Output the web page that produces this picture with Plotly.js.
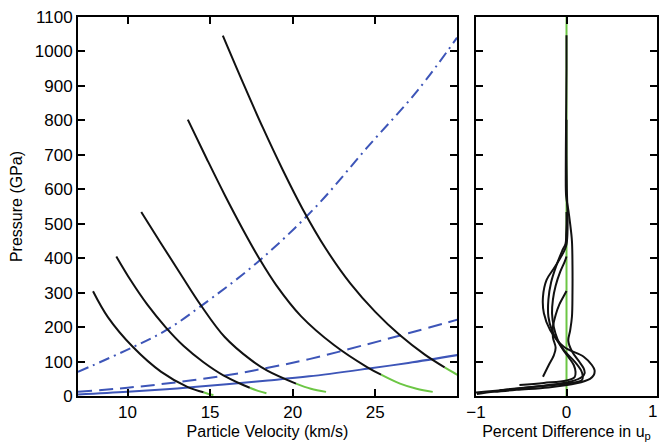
<!DOCTYPE html>
<html>
<head>
<meta charset="utf-8">
<script src="https://cdn.plot.ly/plotly-3.0.1.min.js"></script>
<style>html,body{margin:0;padding:0;background:#fff;}#chart{width:660px;height:442px;}</style>
</head>
<body>
<div id="chart"></div>
<script>
// ---- Left panel: release paths (black part + green tail) ----
const rel1Up = [7.91, 8.81, 10.33, 12.04, 13.65, 14.6];
const rel1P  = [304, 229, 142, 70, 26, 11];
const rel1GreenUp = [14.6, 14.9, 15.2];
const rel1GreenP  = [11, 6, 3];

const rel2Up = [9.32, 10.2, 11.2, 12.3, 13.4, 14.6, 15.8, 17.0, 17.4];
const rel2P  = [405, 335, 265, 200, 145, 98, 60, 32, 24];
const rel2GreenUp = [17.4, 17.9, 18.41];
const rel2GreenP  = [24, 15, 8];

const rel3Up = [10.83, 12.0, 13.2, 14.46, 15.87, 17.49, 18.49, 20.2];
const rel3P  = [534, 445, 355, 262, 172, 104, 73, 36];
const rel3GreenUp = [20.2, 21.1, 22.02];
const rel3GreenP  = [36, 21, 12];

const rel4Up = [13.65, 14.8, 15.9, 17.0, 18.0, 19.0, 20.5, 22.5, 24.5, 25.35];
const rel4P  = [802, 688, 582, 482, 397, 322, 232, 148, 84, 62];
const rel4GreenUp = [25.35, 26.5, 27.5, 28.48];
const rel4GreenP  = [62, 36, 21, 12];

const rel5Up = [15.77, 17.0, 18.2, 19.4, 20.6, 22.0, 23.5, 25.0, 26.5, 28.0, 29.2];
const rel5P  = [1046, 908, 778, 656, 543, 428, 326, 244, 176, 120, 83];
const rel5GreenUp = [29.2, 30.0, 30.6];
const rel5GreenP  = [83, 61, 48];

// ---- Left panel: blue reference curves ----
const solidUp = [7, 10, 13, 16, 18.5, 21, 24.5, 27, 30];
const solidP  = [4, 12, 22, 34, 45, 57, 79, 96, 119];
const dashUp  = [7, 10, 13, 16, 18.5, 21, 24.5, 27, 30];
const dashP   = [12, 24, 40, 60, 82, 107, 150, 182, 222];
const dashDotUp = [7, 10.33, 12.34, 14.36, 17.89, 21.4, 24.54, 27.57, 29.95];
const dashDotP  = [70, 142, 191, 258, 389, 549, 723, 887, 1040];

// ---- Right panel: percent difference in up ----
const diff1 = [0, -0.03, -0.08, -0.12, -0.15, -0.15, -0.12, -0.14, -0.2, -0.26];
const diff1P = [305, 290, 265, 235, 200, 170, 140, 118, 88, 56];
const diff2 = [0, -0.02, -0.07, -0.12, -0.15, -0.16, -0.14, -0.1, -0.04, 0.03, 0.08, 0.1, 0.09, 0.0, -0.25, -0.52];
const diff2P = [405, 390, 360, 320, 280, 240, 200, 165, 135, 110, 90, 70, 55, 45, 38, 32];
const diff3 = [0, 0, -0.004, -0.01, -0.05, -0.11, -0.17, -0.2, -0.2, -0.16, -0.1, -0.02, 0.09, 0.16, 0.18, 0.17, 0.05, -0.3, -0.74];
const diff3P = [534, 500, 470, 443, 420, 380, 330, 280, 230, 190, 160, 130, 100, 75, 58, 46, 38, 28, 17];
const diff4 = [0, 0, 0.004, 0.012, 0.01, 0, -0.02, -0.07, -0.14, -0.22, -0.26, -0.25, -0.18, -0.03, 0.19, 0.28, 0.31, 0.3, 0.26, 0.11, -0.2, -0.55, -0.8, -0.99];
const diff4P = [802, 700, 600, 520, 470, 440, 424, 400, 370, 337, 288, 240, 191, 143, 114, 90, 75, 60, 50, 37, 25, 18, 12, 6];
const diff5 = [0, 0, -0.003, -0.006, -0.008, -0.004, 0.02, 0.04, 0.06, 0.066, 0.066, 0.06, 0.04, 0.02, 0.06, 0.14, 0.19, 0.2, 0.17, 0.05, -0.25, -0.6, -1.0];
const diff5P = [1047, 950, 850, 750, 650, 580, 540, 500, 450, 380, 300, 230, 190, 160, 130, 100, 80, 66, 55, 42, 30, 20, 10];
const zeroLineX = [0, 0];
const zeroLineP = [0, 1100];

// ---- Axis ticks ----
const upTicks = [10, 15, 20, 25];
const pTicks = [0, 100, 200, 300, 400, 500, 600, 700, 800, 900, 1000, 1100];
const diffTicks = [-1, 0];
const diffTickText = ['\u22121', '0'];
const diffEdgeTick = 1;        // right-edge tick, labelled by an annotation so it stays inside the page
const diffEdgeLabel = '1';

const BLACK = '#111111';
const GREEN = '#6cc644';
const BLUE = '#3d55b8';
const LW = 2;

function line(x, y, color, opts) {
  opts = opts || {};
  return {
    type: 'scatter', mode: 'lines', x: x, y: y,
    xaxis: opts.xaxis || 'x', yaxis: opts.yaxis || 'y',
    line: {color: color, width: LW, dash: opts.dash || 'solid', shape: 'spline', smoothing: 1},
    hoverinfo: 'skip', showlegend: false
  };
}

const traces = [
  line(solidUp, solidP, BLUE),
  line(dashUp, dashP, BLUE, {dash: '14px,7px'}),
  line(dashDotUp, dashDotP, BLUE, {dash: '11px,5px,2px,5px'}),
  line(rel1GreenUp, rel1GreenP, GREEN),
  line(rel2GreenUp, rel2GreenP, GREEN),
  line(rel3GreenUp, rel3GreenP, GREEN),
  line(rel4GreenUp, rel4GreenP, GREEN),
  line(rel5GreenUp, rel5GreenP, GREEN),
  line(rel1Up, rel1P, BLACK),
  line(rel2Up, rel2P, BLACK),
  line(rel3Up, rel3P, BLACK),
  line(rel4Up, rel4P, BLACK),
  line(rel5Up, rel5P, BLACK),
  line(zeroLineX, zeroLineP, GREEN, {xaxis: 'x2', yaxis: 'y2'}),
  line(diff1, diff1P, BLACK, {xaxis: 'x2', yaxis: 'y2'}),
  line(diff2, diff2P, BLACK, {xaxis: 'x2', yaxis: 'y2'}),
  line(diff3, diff3P, BLACK, {xaxis: 'x2', yaxis: 'y2'}),
  line(diff4, diff4P, BLACK, {xaxis: 'x2', yaxis: 'y2'}),
  line(diff5, diff5P, BLACK, {xaxis: 'x2', yaxis: 'y2'})
];

const FONT = 'Liberation Sans, Arial, Helvetica, sans-serif';
const axisCommon = {
  showgrid: false, zeroline: false,
  showline: true, linecolor: '#000', linewidth: 2,
  mirror: 'ticks', ticks: 'inside', ticklen: 7, tickwidth: 2, tickcolor: '#000',
  tickfont: {family: FONT, size: 17, color: '#000'}
};

const layout = {
  width: 660, height: 442,
  margin: {l: 78, r: 3, t: 17, b: 46},
  paper_bgcolor: '#fff', plot_bgcolor: '#fff',
  font: {family: FONT, color: '#000'},
  showlegend: false,
  xaxis: Object.assign({}, axisCommon, {
    domain: [0, 0.6546], range: [7, 29.95], tickmode: 'array', tickvals: upTicks,
    title: {text: 'Particle Velocity (km/s)', font: {family: FONT, size: 16}, standoff: 4}
  }),
  yaxis: Object.assign({}, axisCommon, {
    range: [0, 1100], tickmode: 'array', tickvals: pTicks,
    title: {text: 'Pressure (GPa)', font: {family: FONT, size: 16}, standoff: 8}
  }),
  xaxis2: Object.assign({}, axisCommon, {
    domain: [0.6874, 1], anchor: 'y2', range: [-1, 1], tickmode: 'array',
    tickvals: diffTicks, ticktext: diffTickText,
    title: {text: 'Percent Difference in u<sub>p</sub>', font: {family: FONT, size: 16}, standoff: 4}
  }),
  yaxis2: Object.assign({}, axisCommon, {
    anchor: 'x2', range: [0, 1100], tickmode: 'array', tickvals: pTicks, showticklabels: false
  }),
  annotations: [{
    text: diffEdgeLabel, xref: 'x2', yref: 'paper', x: diffEdgeTick, y: 0,
    xanchor: 'right', yanchor: 'top', xshift: 2, yshift: -4, showarrow: false,
    font: {family: FONT, size: 17, color: '#000'}
  }]
};

Plotly.newPlot('chart', traces, layout, {displayModeBar: false, staticPlot: true});
</script>
</body>
</html>
